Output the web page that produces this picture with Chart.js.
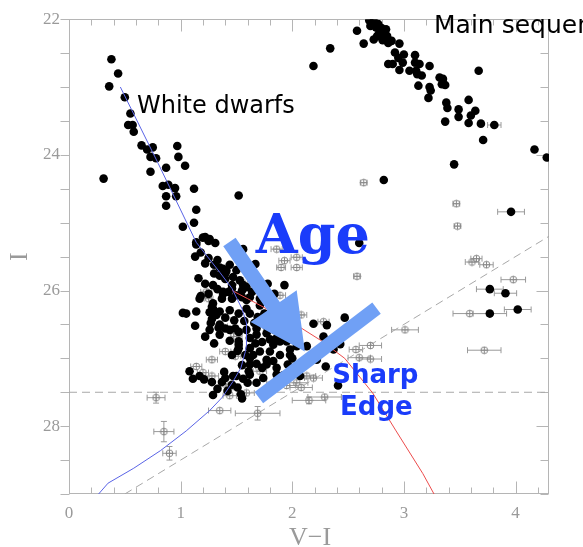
<!DOCTYPE html>
<html><head><meta charset="utf-8">
<script src="https://cdn.jsdelivr.net/npm/chart.js@4"></script>
<style>html,body{margin:0;padding:0;background:#fff}#wrap{width:583px;height:547px}</style>
</head><body><div id="wrap"><canvas id="c" width="583" height="547"></canvas></div>
<script>
// ---------- data (V-I, I) ----------
const xTickValues = [0, 1, 2, 3, 4];
const xTickLabels = ['0', '1', '2', '3', '4'];
const yTickValues = [22, 24, 26, 28];
const yTickLabels = ['22', '24', '26', '28'];

const whiteDwarfPts = [
 [0.38,22.59],[0.44,22.80],[0.36,22.99],[0.50,23.15],[0.55,23.39],[0.53,23.56],[0.57,23.56],[0.58,23.66],
 [0.65,23.86],[0.70,23.92],[0.75,23.89],[0.73,24.03],[0.78,24.05],[0.97,23.87],[0.98,24.03],[1.04,24.16],
 [0.87,24.19],[0.73,24.25],[0.31,24.35],[0.84,24.46],[0.89,24.44],[0.95,24.49],[0.87,24.61],[0.96,24.61],
 [1.12,24.50],[0.87,24.75],[1.14,24.81],[1.52,24.60],[1.12,25.00],[1.02,25.06],[1.22,25.21],[1.26,25.24],
 [1.31,25.30],[1.14,25.29],[1.18,25.44],[1.13,25.50],[1.25,25.52],[1.33,25.55],[1.56,25.39],[1.67,25.61],
 [1.20,25.22],[1.25,25.27],[1.14,25.32]
];
const mainSeqPts = [
 [2.19,22.69],[2.34,22.43],[2.58,22.17],[2.64,22.36],[2.69,22.02],[2.73,22.03],[2.77,22.07],[2.80,22.13],
 [2.78,22.20],[2.84,22.15],[2.85,22.25],[2.73,22.30],[2.81,22.31],[2.89,22.32],[2.86,22.35],[2.75,22.12],
 [2.82,22.22],[2.76,22.25],[2.70,22.10],[2.96,22.36],[2.92,22.49],[2.95,22.57],[3.00,22.52],[2.99,22.64],
 [2.86,22.66],[2.90,22.66],[2.96,22.75],[3.05,22.76],[3.10,22.53],[3.10,22.64],[3.14,22.66],[3.11,22.76],
 [3.12,22.81],[3.16,22.83],[3.23,22.69],[3.13,22.98],[3.23,23.00],[3.24,23.05],[3.22,23.16],[3.32,22.86],
 [3.35,22.88],[3.34,22.96],[3.37,22.97],[3.67,22.76],[3.38,23.23],[3.39,23.31],[3.37,23.51],[3.49,23.33],
 [3.49,23.44],[3.58,23.19],[3.60,23.42],[3.64,23.35],[3.58,23.53],[3.69,23.54],[3.71,23.78],[3.45,24.14],
 [4.17,23.92],[4.28,24.04],[2.82,24.37],[2.60,25.30]
];
const clusterPts = [
 [1.16,25.82],[1.02,26.33],[1.05,26.34],[1.14,26.31],[1.13,26.52],[1.18,26.08],[1.25,26.05],[1.29,25.92],
 [1.38,26.05],[1.35,25.78],[1.38,25.68],[1.27,26.48],[1.34,26.55],[1.29,26.27],[1.35,26.31],[1.44,26.74],
 [1.52,26.75],[1.35,26.65],[1.51,26.89],[1.08,27.19],[1.11,27.30],[1.17,27.26],[1.21,27.31],[1.28,27.35],
 [1.39,27.20],[1.37,27.35],[1.29,27.54],[1.47,27.26],[1.51,27.43],[1.54,27.53],[1.55,27.59],[1.61,27.19],
 [1.60,27.36],[1.65,26.95],[1.50,26.07],[1.35,25.66],[1.41,25.71],[1.40,25.83],[1.47,25.80],[1.53,25.85],
 [1.59,25.95],[1.68,25.97],[1.78,25.90],[1.93,25.92],[1.46,25.97],[1.37,26.12],[1.46,26.12],[1.55,26.10],
 [1.62,26.10],[1.71,26.12],[1.77,26.07],[1.28,26.24],[1.32,26.36],[1.44,26.29],[1.52,26.34],[1.59,26.27],
 [1.71,26.22],[1.75,26.34],[1.35,26.50],[1.44,26.58],[1.52,26.61],[1.59,26.58],[1.68,26.65],[1.77,26.63],
 [1.86,26.70],[1.95,26.75],[2.04,26.82],[1.52,26.85],[1.62,26.85],[1.71,26.90],[1.80,26.90],[1.89,26.95],
 [1.98,26.87],[2.13,26.82],[2.19,26.49],[2.31,26.51],[2.28,26.68],[2.43,26.79],[2.37,26.87],[2.30,27.12],
 [2.41,27.40],[2.47,26.40],[1.62,27.00],[1.77,27.02],[1.86,27.14],[1.73,27.14],[1.62,27.24],[1.74,27.29],
 [1.50,27.26],[2.07,27.26],[2.13,27.04],[1.96,27.09],[1.40,25.75],[1.46,25.92],[1.56,25.92],[1.72,25.95],
 [1.38,26.02],[1.59,26.14],[1.17,26.12],[1.29,26.19],[1.62,26.34],[1.69,26.39],[1.28,26.42],[1.26,26.58],
 [1.40,26.56],[1.49,26.56],[1.68,26.56],[1.77,26.53],[1.62,26.70],[1.80,26.72],[1.89,26.75],[1.40,27.29],
 [1.46,27.39],[1.62,27.09],[1.77,27.09],[1.52,26.80],[1.46,26.95],[1.83,26.80],[1.83,27.04],[1.86,27.24],
 [1.98,26.95],[2.16,27.00],[2.08,27.07],[1.98,27.19],[2.22,27.02],
 [1.22,25.60],[1.30,25.62],[1.44,25.62],[1.50,25.70],[1.30,25.75],[1.22,25.90],[1.33,25.98],[1.43,26.02],
 [1.55,26.00],[1.64,26.02],[1.84,26.05],[1.26,26.32],[1.40,26.40],[1.48,26.44],[1.57,26.45],[1.66,26.48],
 [1.84,26.58],[1.92,26.62],[1.22,26.68],[1.30,26.78],[1.58,26.95],[1.67,26.78],[1.73,26.76],[2.00,27.00],
 [1.68,27.08],[1.55,27.10],[1.33,27.45],[1.42,27.48],[1.56,27.30],[1.68,27.36],[1.92,27.25]
];
// filled points with horizontal error bars: [V-I, I, err(V-I)]
const filledErrPts = [
 [3.81,23.56,0.06],[3.96,24.84,0.12],[3.77,25.98,0.12],[3.91,26.04,0.10],[4.02,26.28,0.12],[3.77,26.34,0.15]
];
// open symbols: [V-I, I, err(V-I), err(I)]
const openPts = [
 [0.78,27.58,0.08,0.08],[0.85,28.08,0.09,0.15],[0.90,28.40,0.06,0.10],[1.35,27.77,0.10,0],[1.69,27.81,0.20,0.10],
 [2.64,24.41,0.03,0],[3.47,24.72,0.03,0],[3.48,25.05,0.03,0],[2.58,25.79,0.03,0],[3.65,25.53,0.05,0],
 [3.61,25.58,0.06,0],[3.74,25.62,0.06,0],[3.98,25.84,0.11,0],[3.59,26.34,0.15,0],[3.72,26.88,0.15,0],
 [3.01,26.58,0.12,0],[2.70,26.81,0.10,0],[2.57,26.87,0.06,0],[2.60,26.99,0.10,0],[2.70,27.01,0.10,0],
 [2.29,27.57,0.15,0],[2.15,27.62,0.15,0.05],[2.08,27.43,0.10,0],[2.04,27.36,0.10,0],[2.19,27.29,0.08,0],
 [2.13,27.26,0.08,0],[2.28,26.46,0.05,0],[1.86,25.39,0.05,0],[1.93,25.56,0.05,0],[2.04,25.51,0.05,0],
 [2.04,25.66,0.05,0],[1.90,25.66,0.04,0],[1.89,26.07,0.05,0],[2.08,26.36,0.05,0],[1.23,26.02,0.05,0],
 [1.25,26.12,0.04,0],[1.37,26.53,0.05,0],[1.50,26.63,0.05,0],[1.55,25.88,0.05,0],[1.49,26.97,0.05,0],
 [1.14,27.12,0.05,0],[1.20,27.21,0.05,0],[1.28,27.26,0.06,0],[1.50,26.68,0.05,0],[1.61,27.12,0.06,0],
 [1.68,27.09,0.06,0],[1.59,27.51,0.07,0],[1.44,27.55,0.06,0],[1.47,27.41,0.06,0],[1.71,27.19,0.06,0],
 [1.40,26.90,0.05,0],[1.28,27.02,0.05,0],[1.40,27.38,0.06,0],[1.95,27.40,0.08,0],[1.85,27.35,0.08,0]
];
const coolingTrack = [
 [0.46,23.00],[0.80,24.13],[1.14,25.29],[1.35,25.73],[1.46,25.97],[1.55,26.27],[1.59,26.48],[1.59,26.80],
 [1.58,26.90],[1.54,27.14],[1.47,27.34],[1.37,27.58],[1.26,27.77],[1.05,28.07],[0.82,28.36],[0.58,28.62],
 [0.35,28.84],[0.26,29.01]
];
const isochrone = [
 [1.46,26.00],[1.60,26.12],[1.77,26.27],[2.01,26.48],[2.25,26.73],[2.47,27.00],[2.72,27.51],[2.93,28.07],
 [3.17,28.70],[3.27,29.00]
];
const limitLine = [[0, 27.5], [4.3, 27.5]];
const completenessLine = [[0.5, 29.0], [4.3, 25.2]];

// ---------- annotations (positions in data units) ----------
const ageArrow = { from: [1.437, 25.285], to: [2.113, 26.898] };
const edgeBar = { from: [1.701, 27.58], to: [2.755, 26.26] };
const notes = [
 { text: 'White dwarfs', at: [0.609, 23.38], font: '24px "DejaVu Sans"', color: '#000', align: 'left' },
 { text: 'Main sequence', at: [3.27, 22.20], font: '25px "DejaVu Sans"', color: '#000', align: 'left' },
 { text: 'Age', at: [1.674, 25.44], font: 'bold 54px "DejaVu Serif"', color: '#1a3cfa', align: 'left' },
 { text: 'Sharp', at: [2.744, 27.365], font: 'bold 26px "DejaVu Sans"', color: '#1a3cfa', align: 'center' },
 { text: 'Edge', at: [2.753, 27.83], font: 'bold 26px "DejaVu Sans"', color: '#1a3cfa', align: 'center' }
];

const toXY = a => a.map(p => ({ x: p[0], y: p[1] }));

function makeOpenMarker() {
  const c = document.createElement('canvas');
  c.width = 9; c.height = 9;
  const g = c.getContext('2d');
  g.strokeStyle = '#8a8a8a'; g.lineWidth = 1;
  g.beginPath(); g.arc(4.5, 4.5, 3.4, 0, Math.PI * 2); g.stroke();
  g.beginPath(); g.moveTo(1, 4.5); g.lineTo(8, 4.5); g.moveTo(4.5, 1); g.lineTo(4.5, 8); g.stroke();
  return c;
}

const axisColor = '#b5b5b5';
const labelColor = '#9a9a9a';

const framePlugin = {
  id: 'frame',
  beforeDatasetsDraw(chart) {
    const { ctx, chartArea: a, scales: { x, y } } = chart;
    ctx.save();
    ctx.strokeStyle = axisColor; ctx.lineWidth = 1;
    const L = Math.round(a.left) + 0.5, R = Math.round(a.right) - 0.5;
    const T = Math.round(a.top) + 0.5, B = Math.round(a.bottom) - 0.5;
    ctx.strokeRect(L, T, R - L, B - T);
    ctx.beginPath();
    for (let i = 0; i * 0.2 <= 4.3 + 1e-9; i++) {
      const px = Math.round(x.getPixelForValue(i * 0.2)) + 0.5;
      const len = (i % 5 === 0) ? 12 : 6;
      ctx.moveTo(px, B); ctx.lineTo(px, B - len);
      ctx.moveTo(px, T); ctx.lineTo(px, T + len);
    }
    for (let i = 0; i <= 14; i++) {
      const py = Math.round(y.getPixelForValue(22 + i * 0.5)) + 0.5;
      const major = i % 4 === 0;
      ctx.moveTo(L, py); ctx.lineTo(L - 9, py);
      ctx.moveTo(R, py); ctx.lineTo(R - (major ? 12 : 8), py);
    }
    ctx.stroke();

    // error bars
    ctx.strokeStyle = '#9a9a9a';
    ctx.beginPath();
    const bar = (xv, yv, xe, ye) => {
      const cx = x.getPixelForValue(xv), cy = y.getPixelForValue(yv);
      if (xe > 0) {
        const x0 = x.getPixelForValue(xv - xe), x1 = x.getPixelForValue(xv + xe);
        ctx.moveTo(x0, cy); ctx.lineTo(x1, cy);
        ctx.moveTo(x0, cy - 3); ctx.lineTo(x0, cy + 3);
        ctx.moveTo(x1, cy - 3); ctx.lineTo(x1, cy + 3);
      }
      if (ye > 0) {
        const y0 = y.getPixelForValue(yv - ye), y1 = y.getPixelForValue(yv + ye);
        ctx.moveTo(cx, y0); ctx.lineTo(cx, y1);
        ctx.moveTo(cx - 3, y0); ctx.lineTo(cx + 3, y0);
        ctx.moveTo(cx - 3, y1); ctx.lineTo(cx + 3, y1);
      }
    };
    openPts.forEach(p => bar(p[0], p[1], p[2], p[3]));
    filledErrPts.forEach(p => bar(p[0], p[1], p[2], 0));
    ctx.stroke();
    ctx.restore();
  },
  afterDatasetsDraw(chart) {
    const { ctx, chartArea: a, scales: { x, y } } = chart;
    const P = v => [x.getPixelForValue(v[0]), y.getPixelForValue(v[1])];
    ctx.save();
    ctx.fillStyle = '#70a0f5';
    {
      const [sx, sy] = P(ageArrow.from), [ex, ey] = P(ageArrow.to);
      const dx = ex - sx, dy = ey - sy, l = Math.hypot(dx, dy);
      const ux = dx / l, uy = dy / l, nx = -uy, ny = ux;
      const sh = 7.5, hh = 28, hl = 55;
      const bx = ex - ux * hl, by = ey - uy * hl;
      ctx.beginPath();
      ctx.moveTo(sx + nx * sh, sy + ny * sh);
      ctx.lineTo(bx + nx * sh, by + ny * sh);
      ctx.lineTo(bx + nx * hh, by + ny * hh);
      ctx.lineTo(ex, ey);
      ctx.lineTo(bx - nx * hh, by - ny * hh);
      ctx.lineTo(bx - nx * sh, by - ny * sh);
      ctx.lineTo(sx - nx * sh, sy - ny * sh);
      ctx.closePath(); ctx.fill();
    }
    {
      const [sx, sy] = P(edgeBar.from), [ex, ey] = P(edgeBar.to);
      ctx.strokeStyle = '#70a0f5'; ctx.lineWidth = 14; ctx.lineCap = 'butt';
      ctx.beginPath(); ctx.moveTo(sx, sy); ctx.lineTo(ex, ey); ctx.stroke();
    }
    notes.forEach(n => {
      const [px, py] = P(n.at);
      ctx.font = n.font; ctx.fillStyle = n.color; ctx.textAlign = n.align; ctx.textBaseline = 'alphabetic';
      ctx.fillText(n.text, px, py);
    });
    ctx.fillStyle = labelColor;
    ctx.font = '26px "Liberation Serif"';
    ctx.textAlign = 'center'; ctx.textBaseline = 'alphabetic';
    ctx.fillText('V\u2212I', (a.left + a.right) / 2 + 1, 545);
    ctx.translate(27, (a.top + a.bottom) / 2);
    ctx.rotate(-Math.PI / 2);
    ctx.fillText('I', 0, 0);
    ctx.restore();
  }
};

new Chart(document.getElementById('c'), {
  type: 'scatter',
  data: {
    datasets: [
      { type: 'line', label: 'completeness', data: toXY(completenessLine), borderColor: '#a8a8a8', borderWidth: 1,
        borderDash: [8, 5], pointRadius: 0, fill: false, order: 10 },
      { type: 'line', label: 'limit', data: toXY(limitLine), borderColor: '#a8a8a8', borderWidth: 1,
        borderDash: [8, 5], pointRadius: 0, fill: false, order: 10 },
      { label: 'open', data: toXY(openPts), pointStyle: makeOpenMarker(), order: 8 },
      { label: 'filled', data: toXY(whiteDwarfPts.concat(mainSeqPts, clusterPts, filledErrPts)),
        pointRadius: 4.3, backgroundColor: '#000', borderWidth: 0, order: 5 },
      { type: 'line', label: 'cooling', data: toXY(coolingTrack), borderColor: '#5a64e6', borderWidth: 1,
        pointRadius: 0, fill: false, tension: 0, order: 2 },
      { type: 'line', label: 'isochrone', data: toXY(isochrone), borderColor: '#ec4c4c', borderWidth: 1,
        pointRadius: 0, fill: false, tension: 0, order: 2 }
    ]
  },
  options: {
    animation: false, responsive: false, devicePixelRatio: 1,
    layout: { padding: { top: 14.5, right: 34, left: 0, bottom: 0 } },
    plugins: { legend: { display: false }, tooltip: { enabled: false } },
    scales: {
      x: {
        type: 'linear', min: 0, max: 4.3,
        afterFit(s) { s.height = 53; },
        afterBuildTicks(s) { s.ticks = xTickValues.map(v => ({ value: v })); },
        grid: { display: false, drawTicks: false }, border: { display: false },
        ticks: { padding: 9, color: labelColor, font: { family: 'Liberation Serif', size: 17 },
          callback: v => { const i = xTickValues.indexOf(v); return i >= 0 ? xTickLabels[i] : null; } }
      },
      y: {
        type: 'linear', min: 22, max: 29, reverse: true,
        afterFit(s) { s.width = 69; },
        afterBuildTicks(s) { s.ticks = yTickValues.map(v => ({ value: v })); },
        grid: { display: false, drawTicks: false }, border: { display: false },
        ticks: { padding: 9, color: labelColor, font: { family: 'Liberation Serif', size: 17 },
          callback: v => { const i = yTickValues.indexOf(v); return i >= 0 ? yTickLabels[i] : null; } }
      }
    }
  },
  plugins: [framePlugin]
});
</script>
</body></html>
